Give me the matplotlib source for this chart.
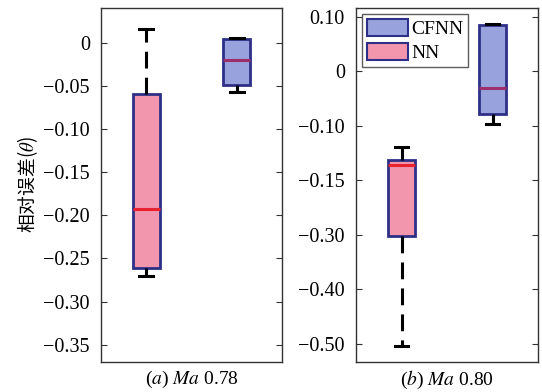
import matplotlib
matplotlib.use("Agg")
import matplotlib.pyplot as plt
from matplotlib.patches import Patch

plt.rcParams['font.family'] = ['Liberation Serif', 'Noto Sans CJK SC', 'DejaVu Sans']
plt.rcParams['mathtext.fontset'] = 'stix'

# Box statistics: (lower whisker, Q1, median, Q3, upper whisker)
series = ['NN', 'CFNN']
stats_078 = {
    'NN':   (-0.270, -0.261, -0.193, -0.060, 0.016),
    'CFNN': (-0.057, -0.049, -0.020, 0.004, 0.005),
}
stats_080 = {
    'NN':   (-0.504, -0.302, -0.171, -0.162, -0.138),
    'CFNN': (-0.096, -0.079, -0.031, 0.084, 0.086),
}
yticks_078 = [0, -0.05, -0.10, -0.15, -0.20, -0.25, -0.30, -0.35]
yticklabels_078 = ['0', '−0.05', '−0.10', '−0.15', '−0.20', '−0.25', '−0.30', '−0.35']
yticks_080 = [0.10, 0, -0.10, -0.20, -0.30, -0.40, -0.50]
yticklabels_080 = ['0.10', '0', '−0.10', '−0.15', '−0.30', '−0.40', '−0.50']
xlabels = ['($a$) $Ma$ 0.78', '($b$) $Ma$ 0.80']
ylabel = '相对误差($\\theta$)'

fill_colors = {'NN': '#f296ae', 'CFNN': '#98a2dc'}
median_colors = {'NN': '#e8222e', 'CFNN': '#9c2f6c'}
edge_color = '#2e2f86'

fig = plt.figure(figsize=(5.42, 3.92), dpi=100)
ax1 = fig.add_axes([101 / 542, 1 - 362 / 392, 181 / 542, 354 / 392])
ax2 = fig.add_axes([356 / 542, 1 - 362 / 392, 182 / 542, 354 / 392])


def draw_boxes(ax, stats):
    for i, name in enumerate(series):
        lo, q1, med, q3, hi = stats[name]
        st = dict(whislo=lo, q1=q1, med=med, q3=q3, whishi=hi,
                  fliers=[], label=name)
        ax.bxp([st], positions=[i + 1], widths=0.3, patch_artist=True,
               showfliers=False,
               boxprops=dict(facecolor=fill_colors[name], edgecolor=edge_color,
                             linewidth=2.0),
               medianprops=dict(color=median_colors[name], linewidth=2.2),
               whiskerprops=dict(color='black', linewidth=2.2,
                                 linestyle=(0, (5.5, 3))),
               capprops=dict(color='black', linewidth=2.2),
               capwidths=0.15)
    ax.set_xlim(0.5, 2.5)
    ax.set_xticks([])
    ax.tick_params(axis='y', direction='in', length=4, right=True,
                   labelsize=14.5, width=0.8, colors='#333333', labelcolor='black',
                   pad=8)
    for sp in ax.spines.values():
        sp.set_color('#333333')
        sp.set_linewidth(1.0)


draw_boxes(ax1, stats_078)
ax1.set_ylim(-0.370, 0.040)
ax1.set_yticks(yticks_078)
ax1.set_yticklabels(yticklabels_078)
ax1.set_xlabel(xlabels[0], fontsize=14, labelpad=5)
ax1.set_ylabel(ylabel, fontsize=13.5,
               family=['Noto Sans CJK SC', 'DejaVu Sans'], labelpad=2)

draw_boxes(ax2, stats_080)
ax2.set_ylim(-0.533, 0.116)
ax2.set_yticks(yticks_080)
ax2.set_yticklabels(yticklabels_080)
ax2.set_xlabel(xlabels[1], fontsize=14, labelpad=5)

handles = [Patch(facecolor=fill_colors['CFNN'], edgecolor=edge_color, linewidth=1.5, label='CFNN'),
           Patch(facecolor=fill_colors['NN'], edgecolor=edge_color, linewidth=1.5, label='NN')]
leg = ax2.legend(handles=handles, loc='upper left', fontsize=14, frameon=True,
                 fancybox=False, edgecolor='#333333', handlelength=2.1,
                 handleheight=1.0, handletextpad=0.2, borderpad=0.25,
                 labelspacing=0.25, borderaxespad=0.3)
leg.get_frame().set_linewidth(1.0)

fig.savefig('out.png', dpi=100)
